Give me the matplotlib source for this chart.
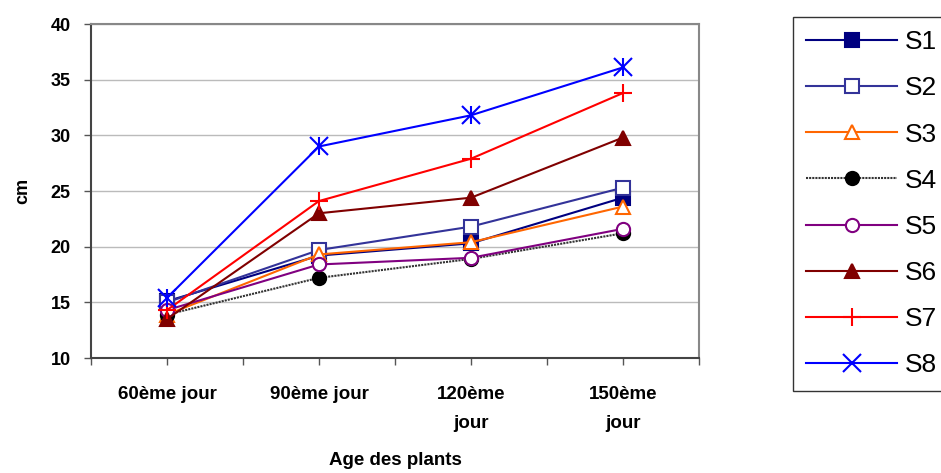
import matplotlib.pyplot as plt
import numpy as np

# Données
categories = ["60ème jour", "90ème jour", "120ème\njour", "150ème\njour"]
series_names = ["S1", "S2", "S3", "S4", "S5", "S6", "S7", "S8"]
s1 = [15.1, 19.2, 20.3, 24.4]
s2 = [15.0, 19.7, 21.8, 25.3]
s3 = [13.9, 19.3, 20.4, 23.6]
s4 = [13.9, 17.2, 18.9, 21.2]
s5 = [14.3, 18.4, 19.0, 21.6]
s6 = [13.5, 23.0, 24.4, 29.8]
s7 = [14.3, 24.1, 27.9, 33.8]
s8 = [15.4, 29.0, 31.8, 36.1]
values = [s1, s2, s3, s4, s5, s6, s7, s8]

# Styles
colors = ["#000080", "#333399", "#FF6600", "#000000", "#800080", "#800000", "#FF0000", "#0000FF"]
markers = ["s", "s", "^", "o", "o", "^", "+", "x"]
filled = [True, False, False, True, False, True, True, True]

plt.rcParams['font.family'] = ['Liberation Sans', 'DejaVu Sans']

fig = plt.figure(figsize=(9.41, 4.73), dpi=100)
ax = fig.add_axes([91 / 941, 1 - 358 / 473, 608 / 941, 334 / 473])

x = np.arange(len(categories))
for i, name in enumerate(series_names):
    mfc = colors[i] if filled[i] else "white"
    ms = 13 if markers[i] in ("+", "x") else 9.5
    ls = (0, (1, 0.5)) if name == "S4" else "-"
    lc = "#333333" if name == "S4" else colors[i]
    ax.plot(x, values[i], color=lc, linestyle=ls, linewidth=1.5,
            marker=markers[i], markersize=ms, markerfacecolor=mfc,
            markeredgecolor=colors[i], markeredgewidth=1.5, label=name,
            clip_on=False, zorder=3)
# astérisque pour S8
ax.plot(x, s8, linestyle="none", marker="|", markersize=13,
        markeredgewidth=1.5, color=colors[7], zorder=3)

ax.set_xlim(-0.5, 3.5)
ax.set_ylim(10, 40)
ax.set_yticks(np.arange(10, 41, 5))
ax.set_xticks(x)
ax.set_xticklabels(categories, fontsize=13.5, fontweight="bold", linespacing=1.95)
ax.set_xticks(np.arange(-0.5, 3.6, 1.0), minor=True)
ax.tick_params(axis="both", which="both", direction="out", length=5, width=1, color="#555555")
ax.tick_params(axis="y", labelsize=13, pad=9.5)
for lab in ax.get_yticklabels():
    lab.set_fontweight("bold")
ax.tick_params(axis="x", pad=15)

ax.grid(axis="y", color="#bbbbbb", linewidth=1)
ax.set_axisbelow(True)
for sp in ax.spines.values():
    sp.set_color("#888888")
    sp.set_linewidth(1.5)
ax.spines["bottom"].set_color("#444444")
ax.spines["left"].set_color("#444444")

ax.set_ylabel("cm", fontsize=13, fontweight="bold", labelpad=14)
ax.set_xlabel("Age des plants", fontsize=13.5, fontweight="bold", labelpad=14)

handles, labels = ax.get_legend_handles_labels()
leg = fig.legend(handles, labels, loc="upper left", bbox_to_anchor=(793 / 941, 1 - 17 / 473),
                 fontsize=19, frameon=True, fancybox=False, edgecolor="black",
                 handlelength=3.45, labelspacing=0.84, borderpad=0.5, handletextpad=0.3,
                 borderaxespad=0)
leg.get_frame().set_linewidth(1)

fig.savefig("out.png", dpi=100)
